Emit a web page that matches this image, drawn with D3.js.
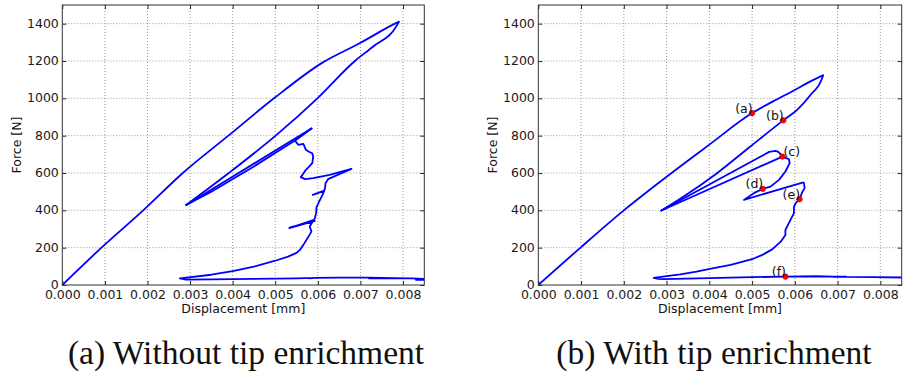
<!DOCTYPE html>
<html>
<head>
<meta charset="utf-8">
<script src="https://cdn.jsdelivr.net/npm/d3@7"></script>
<style>
  html, body { margin: 0; padding: 0; background: #ffffff; }
</style>
</head>
<body>
<svg id="fig" width="903" height="375"></svg>
<script>
// Axis ticks shared by both panels
const dispTicks = [0, 0.001, 0.002, 0.003, 0.004, 0.005, 0.006, 0.007, 0.008];
const forceTicks = [0, 200, 400, 600, 800, 1000, 1200, 1400];

// ---- Without tip enrichment: [displacement mm, force N] ----
// loading up to the peak load
const loadWithout = [
  [0, 0], [0.00092, 200], [0.0019, 400], [0.00283, 600], [0.0039, 800],
  [0.00497, 1000], [0.0061, 1190], [0.00699, 1296], [0.00781, 1400], [0.0079, 1410]
];
// snap-back from the peak
const snapWithout = [
  [0.0079, 1410], [0.00786, 1392], [0.0073, 1278], [0.00687, 1200], [0.00599, 1000],
  [0.00501, 800], [0.00391, 600], [0.00291, 429]
];
// reloading wedge
const wedgeUpperWithout = [[0.00291, 429], [0.00585, 838]];
const wedgeLowerWithout = [[0.00291, 429], [0.0035, 500], [0.0045, 635], [0.0055, 780], [0.00585, 838]];
// progressive softening down to the residual load
const softenWithout = [
  [0.00585, 838], [0.00546, 775], [0.00554, 751], [0.00566, 756], [0.00572, 724], [0.00578, 715],
  [0.00587, 706], [0.00589, 685], [0.00587, 653], [0.0058, 635], [0.00572, 617],
  [0.00564, 590], [0.0056, 578], [0.0057, 567], [0.00589, 572], [0.00628, 590],
  [0.00679, 622], [0.00652, 595], [0.00624, 567], [0.00618, 545], [0.00617, 519],
  [0.00615, 506], [0.00588, 483], [0.00615, 504], [0.00611, 483], [0.00603, 447],
  [0.00597, 417], [0.00596, 385], [0.00593, 358], [0.00591, 349],
  [0.00533, 305], [0.00593, 343], [0.00535, 309], [0.00588, 340],
  [0.00581, 313], [0.00585, 286], [0.00578, 259], [0.00566, 215], [0.00558, 188],
  [0.0055, 172], [0.0053, 152], [0.005, 130], [0.0045, 98], [0.004, 74],
  [0.0035, 55], [0.00276, 36], [0.0029, 29], [0.0035, 30], [0.0045, 33],
  [0.0055, 36], [0.00595, 38], [0.0058, 36], [0.00595, 38], [0.0065, 39],
  [0.0072, 39], [0.0078, 37], [0.0072, 36], [0.0078, 37], [0.0082, 35],
  [0.0085, 33], [0.0083, 28], [0.0086, 28]
];

// ---- With tip enrichment: [displacement mm, force N] ----
const loadWith = [
  [0, 0], [0.001, 203], [0.002, 400], [0.003, 580], [0.004, 752], [0.005, 921],
  [0.0055, 985], [0.006, 1045], [0.0064, 1095], [0.00666, 1123]
];
const snapWith = [
  [0.00666, 1123], [0.00664, 1109], [0.00637, 1019], [0.00606, 939], [0.00573, 882],
  [0.00496, 742], [0.00418, 599], [0.0034, 474], [0.00288, 399]
];
const wedgeUpperWith = [
  [0.00288, 399], [0.0053, 700], [0.0054, 713], [0.00555, 718], [0.0056, 715],
  [0.00565, 705], [0.00571, 688]
];
const wedgeLowerWith = [[0.00288, 399], [0.00571, 688]];
const softenWith = [
  [0.00571, 688], [0.00586, 674], [0.00588, 653], [0.00578, 608], [0.00563, 563], [0.00543, 527],
  [0.00525, 515], [0.00504, 492], [0.00481, 456], [0.00618, 549], [0.00621, 548],
  [0.00623, 519], [0.00618, 501], [0.00611, 460], [0.00602, 438], [0.00598, 420],
  [0.00598, 385], [0.00586, 331], [0.00578, 295], [0.00578, 268], [0.00567, 232],
  [0.00547, 191], [0.00524, 161], [0.0050, 138], [0.0045, 108], [0.0041, 90],
  [0.0037, 72], [0.00332, 57], [0.003, 47], [0.0027, 38], [0.0028, 33], [0.00293, 31],
  [0.004, 37], [0.005, 42], [0.00578, 45], [0.0065, 47], [0.0069, 45], [0.0072, 45],
  [0.0069, 44], [0.0072, 44], [0.0078, 42], [0.0086, 40]
];

// Marked states on the enriched response
const stateNames = ["(a)", "(b)", "(c)", "(d)", "(e)", "(f)"];
const stateDisp  = [0.005, 0.00573, 0.00571, 0.00525, 0.00611, 0.00578];
const stateForce = [921, 882, 688, 515, 460, 45];
const stateLabelSide = ["left", "left", "right", "left", "left", "left"];

const captions = ["(a) Without tip enrichment", "(b) With tip enrichment"];

const svg = d3.select("#fig");
const sans = "DejaVu Sans, sans-serif";

const panels = [
  { smooth: [loadWithout, snapWithout], straight: [wedgeUpperWithout, wedgeLowerWithout, softenWithout],
    left: 62.3, right: 424.3, caption: captions[0], captionX: 246, states: false },
  { smooth: [loadWith, snapWith], straight: [wedgeUpperWith, wedgeLowerWith, softenWith],
    left: 538.3, right: 901.7, caption: captions[1], captionX: 714, states: true }
];
const plotTop = 5, plotBottom = 285;

panels.forEach((p, i) => {
  const x = d3.scaleLinear().domain([0, 0.0085]).range([p.left, p.right]);
  const y = d3.scaleLinear().domain([0, 1500]).range([plotBottom, plotTop]);
  const g = svg.append("g");

  // dotted grid
  g.append("g").selectAll("line").data(dispTicks.slice(1)).join("line")
    .attr("x1", d => x(d)).attr("x2", d => x(d)).attr("y1", plotTop).attr("y2", plotBottom)
    .attr("stroke", "#9a9a9a").attr("stroke-width", 1).attr("stroke-dasharray", "1,2");
  g.append("g").selectAll("line").data(forceTicks.slice(1)).join("line")
    .attr("x1", p.left).attr("x2", p.right).attr("y1", d => y(d)).attr("y2", d => y(d))
    .attr("stroke", "#9a9a9a").attr("stroke-width", 1).attr("stroke-dasharray", "1,2");

  // axes with inward ticks
  const xAxis = d3.axisBottom(x).tickValues(dispTicks).tickFormat(d3.format(".3f"))
    .tickSizeInner(-4).tickSizeOuter(0).tickPadding(5);
  const yAxis = d3.axisLeft(y).tickValues(forceTicks).tickFormat(d3.format("d"))
    .tickSizeInner(-4).tickSizeOuter(0).tickPadding(3.5);
  const xa = g.append("g").attr("transform", `translate(0,${plotBottom})`).call(xAxis);
  const ya = g.append("g").attr("transform", `translate(${p.left},0)`).call(yAxis);
  [xa, ya].forEach(a => {
    a.select(".domain").remove();
    a.selectAll("text").style("font-family", sans).style("font-size", "12.5px").attr("fill", "#1a1a1a");
    a.selectAll("line").attr("stroke", "#222");
  });
  ya.selectAll("text").attr("dy", "0.28em");
  // mirrored ticks on top and right
  const xt = g.append("g").attr("transform", `translate(0,${plotTop})`)
    .call(d3.axisTop(x).tickValues(dispTicks).tickSizeInner(-4).tickSizeOuter(0).tickFormat(""));
  const yt = g.append("g").attr("transform", `translate(${p.right},0)`)
    .call(d3.axisRight(y).tickValues(forceTicks).tickSizeInner(-4).tickSizeOuter(0).tickFormat(""));
  [xt, yt].forEach(a => { a.select(".domain").remove(); a.selectAll("line").attr("stroke", "#222"); });

  // clip region and response curve
  const clipId = "clip" + i;
  svg.append("clipPath").attr("id", clipId).append("rect")
    .attr("x", p.left).attr("y", plotTop).attr("width", p.right - p.left).attr("height", plotBottom - plotTop);
  const cg = g.append("g").attr("clip-path", `url(#${clipId})`)
    .attr("fill", "none").attr("stroke", "#0000ff").attr("stroke-width", 1.8)
    .attr("stroke-linejoin", "round").attr("stroke-linecap", "round");
  const smoothLine = d3.line().x(d => x(d[0])).y(d => y(d[1])).curve(d3.curveMonotoneX);
  const straightLine = d3.line().x(d => x(d[0])).y(d => y(d[1]));
  p.smooth.forEach(seg => {
    const sorted = seg.slice().sort((a, b) => a[0] - b[0]);
    cg.append("path").attr("d", smoothLine(sorted));
  });
  p.straight.forEach(seg => cg.append("path").attr("d", straightLine(seg)));

  // frame
  g.append("rect").attr("x", p.left).attr("y", plotTop)
    .attr("width", p.right - p.left).attr("height", plotBottom - plotTop)
    .attr("fill", "none").attr("stroke", "#333").attr("stroke-width", 1);

  if (p.states) {
    const sg = g.append("g");
    stateNames.forEach((name, k) => {
      const cx = x(stateDisp[k]), cy = y(stateForce[k]);
      sg.append("circle").attr("cx", cx).attr("cy", cy).attr("r", 2.8)
        .attr("fill", "#ff0000").attr("stroke", "#b00000").attr("stroke-width", 0.5);
      sg.append("text").attr("x", stateLabelSide[k] === "left" ? cx + 0.5 : cx + 1)
        .attr("y", cy - 0.5)
        .attr("text-anchor", stateLabelSide[k] === "left" ? "end" : "start")
        .style("font-family", sans).style("font-size", "12.5px").attr("fill", "#111").text(name);
    });
  }

  // axis titles
  g.append("text").attr("x", (p.left + p.right) / 2).attr("y", 312.5)
    .attr("text-anchor", "middle").style("font-family", sans).style("font-size", "12.5px")
    .attr("fill", "#111").text("Displacement [mm]");
  g.append("text").attr("transform", `translate(${p.left - 41},${(plotTop + plotBottom) / 2}) rotate(-90)`)
    .attr("text-anchor", "middle").style("font-family", sans).style("font-size", "12.5px")
    .attr("fill", "#111").text("Force [N]");

  // sub-figure caption
  g.append("text").attr("x", p.captionX).attr("y", 363.5).attr("text-anchor", "middle")
    .style("font-family", "'Liberation Serif', serif").style("font-size", "33.5px")
    .attr("fill", "#111").text(p.caption);
});
</script>
</body>
</html>
